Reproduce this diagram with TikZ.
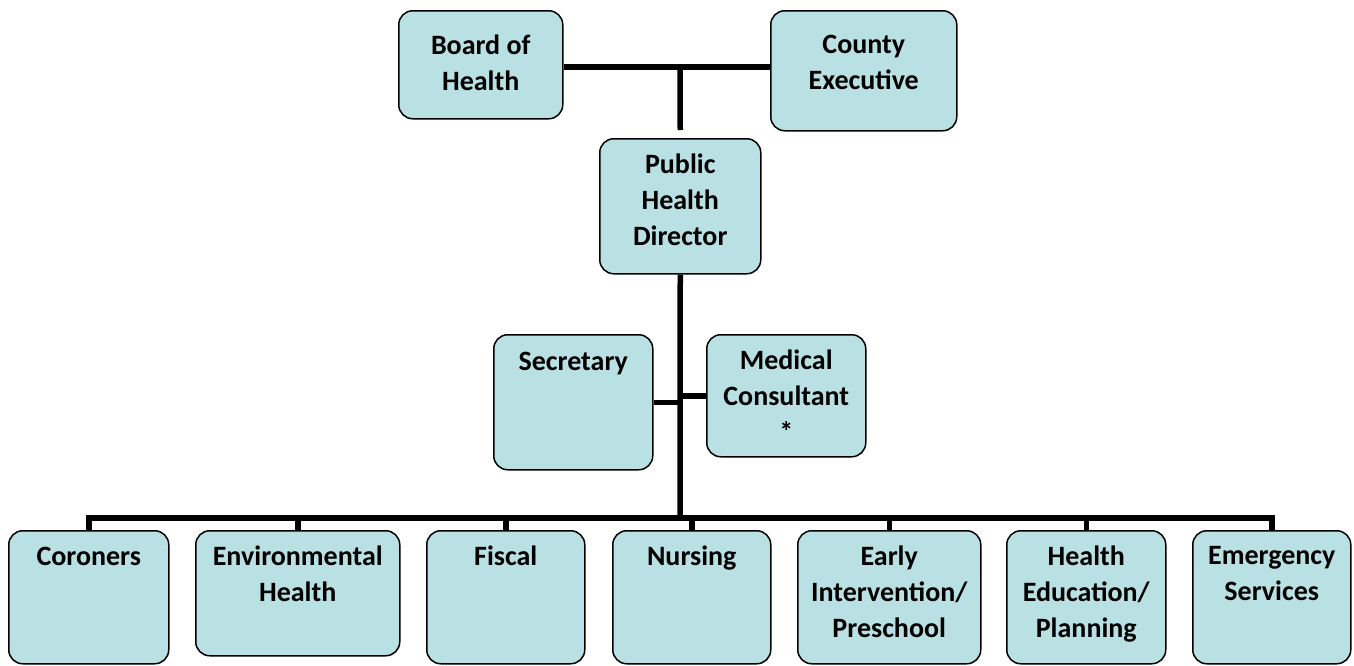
\documentclass[tikz,border=0pt]{standalone}
\usepackage{fontspec}
\setmainfont{Carlito}
\usepackage{xcolor}
\definecolor{boxfill}{HTML}{B9E0E3}
\tikzset{
  unit/.style={draw, line width=1.5pt, rounded corners=14pt, fill=boxfill,
    anchor=north west, inner sep=0pt},
  title/.style={anchor=north, align=center, inner sep=0pt,
    font=\fontsize{28}{36}\selectfont\bfseries, execute at begin node=\strut},
  link/.style={line width=5.5pt}
}

\begin{document}
\begin{tikzpicture}[x=1pt,y=-1pt]
\useasboundingbox (0,0) rectangle (1354,665);

% top level
\node[unit, minimum width=164pt, minimum height=108pt] (board) at (398,10) {};
\node[title] (board-t) at ([yshift=-25pt]board.north) {Board of\\Health};
\node[unit, minimum width=186pt, minimum height=120pt] (county) at (770,10) {};
\node[title] (county-t) at ([yshift=-25pt]county.north) {County\\Executive};
\node[unit, minimum width=161pt, minimum height=135pt] (dir) at (599,138) {};
\node[title] (dir-t) at ([yshift=-16pt]dir.north) {Public\\Health\\Director};

% staff
\node[unit, minimum width=159pt, minimum height=135pt] (sec) at (493,334) {};
\node[title] (sec-t) at ([yshift=-11pt]sec.north) {Secretary};
\node[unit, minimum width=159pt, minimum height=122pt] (med) at (706,334) {};
\node[title] (med-t) at ([yshift=-16pt]med.north) {Medical\\Consultant\\*};

% divisions
\node[unit, minimum width=160pt, minimum height=133pt] (cor) at (8,530) {};
\node[title] (cor-t) at ([yshift=-10pt]cor.north) {Coroners};
\node[unit, minimum width=204pt, minimum height=125pt] (env) at (195,530) {};
\node[title] (env-t) at ([yshift=-16pt]env.north) {Environmental\\Health};
\node[unit, minimum width=158pt, minimum height=133pt] (fis) at (426,530) {};
\node[title] (fis-t) at ([yshift=-10pt]fis.north) {Fiscal};
\node[unit, minimum width=158pt, minimum height=133pt] (nur) at (612,530) {};
\node[title] (nur-t) at ([yshift=-10pt]nur.north) {Nursing};
\node[unit, minimum width=183pt, minimum height=133pt] (eip) at (797,530) {};
\node[title] (eip-t) at ([yshift=-16pt]eip.north) {Early\\Intervention/\\Preschool};
\node[unit, minimum width=159pt, minimum height=133pt] (hep) at (1006,530) {};
\node[title] (hep-t) at ([yshift=-16pt]hep.north) {Health\\Education/\\Planning};
\node[unit, minimum width=158pt, minimum height=133pt] (ems) at (1192,530) {};
\node[title] (ems-t) at ([yshift=-16pt]ems.north) {Emergency\\Services};

% connectors
\coordinate (top) at (680,67);
\coordinate (bus) at (680,518);
\draw[link] (board.east |- top) -- (county.west |- top);
\draw[link] (top) -- ([yshift=8pt]dir.north);
\draw[link] (dir.south) -- (bus);
\draw[link] (sec.east) -- (sec.east -| bus);
\draw[link] (med.west) -- (med.west -| bus);
\draw[link] (cor.north) -- (cor.north |- bus) -- (ems.north |- bus) -- (ems.north);
\foreach \d in {env,fis,nur,eip,hep}
  \draw[link] (\d.north) -- (\d.north |- bus);
\end{tikzpicture}
\end{document}
